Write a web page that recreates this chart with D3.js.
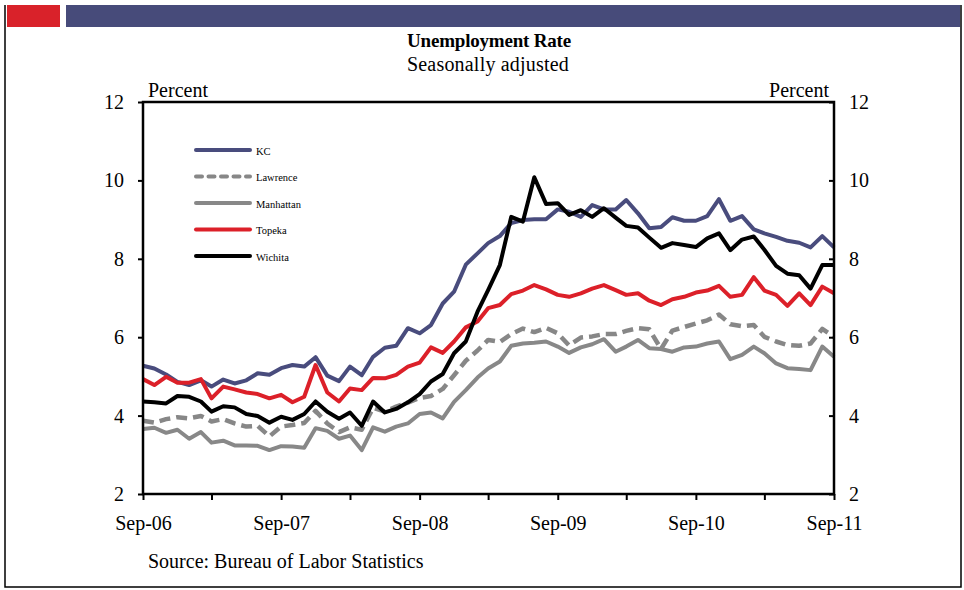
<!DOCTYPE html>
<html lang="en">
<head>
<meta charset="utf-8">
<title>Unemployment Rate</title>
<script src="https://cdn.jsdelivr.net/npm/d3@7"></script>
<style>
  body { margin: 0; background: #fff; }
  svg text { font-family: "Liberation Serif", "Times New Roman", serif; fill: #000; }
</style>
</head>
<body>
<script>
// monthly, Sep-06 .. Sep-11
var startMonth = new Date(2006, 8, 1);
var tickLabels = ["Sep-06", "Sep-07", "Sep-08", "Sep-09", "Sep-10", "Sep-11"];
var yTicks = [2, 4, 6, 8, 10, 12];
var seriesNames = ["KC", "Lawrence", "Manhattan", "Topeka", "Wichita"];

var kc = [5.27, 5.2, 5.05, 4.86, 4.78, 4.9, 4.74, 4.92, 4.82, 4.9, 5.08, 5.04, 5.21, 5.29,
  5.25, 5.49, 5.02, 4.88, 5.25, 5.03, 5.5, 5.73, 5.78, 6.23, 6.10, 6.31, 6.86, 7.16, 7.85,
  8.14, 8.40, 8.58, 8.91, 8.99, 9.01, 9.01, 9.26, 9.20, 9.07, 9.37, 9.26, 9.26, 9.5, 9.16,
  8.78, 8.81, 9.06, 8.97, 8.97, 9.09, 9.52, 8.97, 9.09, 8.75, 8.65, 8.56, 8.46, 8.41, 8.29,
  8.58, 8.29];
var lawrence = [3.87, 3.82, 3.91, 3.96, 3.93, 3.99, 3.85, 3.91, 3.80, 3.72, 3.74, 3.47, 3.72,
  3.76, 3.81, 4.12, 3.80, 3.58, 3.70, 3.64, 4.20, 4.10, 4.23, 4.33, 4.45, 4.50, 4.68, 5.03,
  5.40, 5.66, 5.93, 5.88, 6.08, 6.22, 6.13, 6.24, 6.10, 5.79, 5.99, 6.02, 6.08, 6.08, 6.16,
  6.23, 6.20, 5.70, 6.17, 6.26, 6.35, 6.43, 6.58, 6.33, 6.28, 6.31, 6.01, 5.89, 5.80, 5.78,
  5.84, 6.21, 6.01];
var manhattan = [3.66, 3.69, 3.56, 3.64, 3.41, 3.58, 3.31, 3.36, 3.24, 3.24, 3.23, 3.12, 3.22,
  3.21, 3.18, 3.68, 3.61, 3.41, 3.49, 3.12, 3.70, 3.59, 3.72, 3.80, 4.04, 4.08, 3.93, 4.35,
  4.65, 4.97, 5.20, 5.38, 5.78, 5.84, 5.86, 5.89, 5.76, 5.60, 5.74, 5.82, 5.95, 5.63, 5.76,
  5.93, 5.72, 5.70, 5.63, 5.74, 5.76, 5.84, 5.89, 5.44, 5.55, 5.76, 5.59, 5.33, 5.21, 5.19,
  5.16, 5.76, 5.50];
var topeka = [4.93, 4.78, 4.99, 4.84, 4.84, 4.93, 4.44, 4.74, 4.67, 4.59, 4.55, 4.44, 4.53,
  4.34, 4.48, 5.29, 4.59, 4.36, 4.69, 4.65, 4.96, 4.95, 5.04, 5.25, 5.35, 5.74, 5.60, 5.89,
  6.25, 6.40, 6.74, 6.82, 7.10, 7.19, 7.33, 7.22, 7.08, 7.03, 7.12, 7.24, 7.33, 7.20, 7.08,
  7.12, 6.93, 6.82, 6.97, 7.03, 7.14, 7.19, 7.31, 7.03, 7.08, 7.53, 7.19, 7.08, 6.80, 7.12,
  6.82, 7.29, 7.12];
var wichita = [4.36, 4.34, 4.31, 4.50, 4.48, 4.36, 4.10, 4.24, 4.21, 4.04, 3.99, 3.82, 3.97,
  3.89, 4.04, 4.36, 4.10, 3.92, 4.08, 3.74, 4.36, 4.08, 4.17, 4.34, 4.55, 4.87, 5.06, 5.59,
  5.89, 6.65, 7.20, 7.84, 9.07, 8.95, 10.08, 9.40, 9.42, 9.12, 9.24, 9.07, 9.29, 9.05, 8.84,
  8.80, 8.54, 8.28, 8.40, 8.35, 8.30, 8.52, 8.65, 8.22, 8.49, 8.57, 8.23, 7.82, 7.62, 7.58,
  7.24, 7.84, 7.84];

var series = [
  { name: "KC", values: kc, color: "#494c7d", dash: null },
  { name: "Lawrence", values: lawrence, color: "#878787", dash: "11,6" },
  { name: "Manhattan", values: manhattan, color: "#888888", dash: null },
  { name: "Topeka", values: topeka, color: "#dc2029", dash: null },
  { name: "Wichita", values: wichita, color: "#000000", dash: null }
];

var w = 964, h = 590;
var plotL = 143, plotR = 834, plotT = 102, plotB = 494;

var svg = d3.select("body").append("svg")
  .attr("width", w).attr("height", h);

// header bars + frame
svg.append("rect").attr("x", 7).attr("y", 5).attr("width", 53).attr("height", 22).attr("fill", "#d9222a");
svg.append("rect").attr("x", 66).attr("y", 5).attr("width", 894).attr("height", 22).attr("fill", "#474b7a");
svg.append("path").attr("d", "M5,5V587H961V5")
  .attr("fill", "none").attr("stroke", "#000").attr("stroke-width", 1.5);

var monthOf = function (i) { return d3.timeMonth.offset(startMonth, i); };

var x = d3.scaleTime()
  .domain([startMonth, monthOf(60)])
  .range([plotL, plotR]);
var y = d3.scaleLinear().domain([2, 12]).range([plotB, plotT]);

// titles
svg.append("text").attr("x", 489).attr("y", 47).attr("text-anchor", "middle")
  .attr("font-size", 19).attr("font-weight", "bold").attr("letter-spacing", -0.2)
  .text("Unemployment Rate");
svg.append("text").attr("x", 488).attr("y", 71).attr("text-anchor", "middle")
  .attr("font-size", 20).attr("letter-spacing", 0.2).text("Seasonally adjusted");
svg.append("text").attr("x", 148).attr("y", 97).attr("font-size", 20).text("Percent");
svg.append("text").attr("x", 829).attr("y", 97).attr("text-anchor", "end")
  .attr("font-size", 20).text("Percent");

// lines
var line = d3.line()
  .x(function (d, i) { return x(monthOf(i)); })
  .y(function (d) { return y(d); });

svg.append("g").selectAll("path")
  .data(series)
  .join("path")
  .attr("d", function (s) { return line(s.values); })
  .attr("fill", "none")
  .attr("stroke", function (s) { return s.color; })
  .attr("stroke-width", function (s) { return s.dash ? 4.5 : 4; })
  .attr("stroke-linejoin", "round")
  .attr("stroke-dasharray", function (s) { return s.dash; });

// axes
var yLeft = svg.append("g").attr("transform", "translate(" + plotL + ",0)")
  .call(d3.axisLeft(y).tickValues(yTicks).tickSize(5).tickPadding(14).tickFormat(d3.format("d")));
var yRight = svg.append("g").attr("transform", "translate(" + plotR + ",0)")
  .call(d3.axisRight(y).tickValues(yTicks).tickSizeInner(-5).tickSizeOuter(0).tickPadding(15).tickFormat(d3.format("d")));
var xTickDates = d3.range(0, 61, 6).map(monthOf);
var xAxis = svg.append("g").attr("transform", "translate(0," + plotB + ")")
  .call(d3.axisBottom(x).tickValues(xTickDates).tickSize(6).tickSizeOuter(0).tickPadding(16)
    .tickFormat(function (d, i) { return i % 2 === 0 ? tickLabels[i / 2] : ""; }));

[yLeft, yRight, xAxis].forEach(function (g) {
  g.selectAll("text").attr("font-size", 20)
    .style("font-family", "'Liberation Serif', 'Times New Roman', serif").attr("fill", "#000");
  g.selectAll("line").attr("stroke", "#000").attr("stroke-width", 2);
  g.select(".domain").remove();
});

// box
svg.append("rect").attr("x", plotL).attr("y", plotT)
  .attr("width", plotR - plotL).attr("height", plotB - plotT)
  .attr("fill", "none").attr("stroke", "#000").attr("stroke-width", 2.5);

// legend
var legend = svg.append("g").selectAll("g")
  .data(series).join("g")
  .attr("transform", function (s, i) { return "translate(196," + (150 + i * 26.5) + ")"; });
legend.append("line")
  .attr("x1", 0).attr("x2", 54)
  .attr("stroke", function (s) { return s.color; })
  .attr("stroke-width", 4)
  .attr("stroke-linecap", "round")
  .attr("stroke-dasharray", function (s) { return s.dash ? "6,6.5" : null; });
legend.append("text").attr("x", 60).attr("y", 4.5)
  .attr("font-size", 10.5).text(function (s) { return s.name; });

svg.append("text").attr("x", 148).attr("y", 568).attr("font-size", 20)
  .text("Source: Bureau of Labor Statistics");
</script>
</body>
</html>
